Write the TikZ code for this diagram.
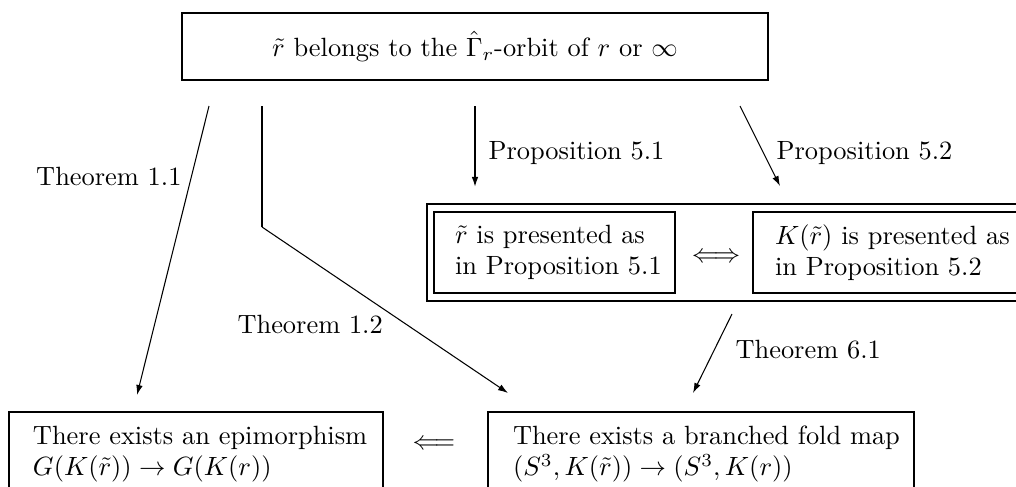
\documentclass[tikz,border=0pt]{standalone}
\usetikzlibrary{arrows.meta}
\newcommand\pxu{0.3788pt}
\begin{document}
\begin{tikzpicture}[x=\pxu, y=-\pxu,
  box/.style={draw, line width=0.8pt, inner sep=0pt, outer sep=0pt},
  lbox/.style={box, align=left, inner ysep=0pt},
  lab/.style={inner sep=0pt},
  arr/.style={-{Latex[length=3.8pt,width=2.5pt]}, line width=0.4pt},
  mid/.style={-{Latex[length=3.8pt,width=2.5pt]}, line width=0.6pt},
  heavy/.style={line width=1.1pt}]
\useasboundingbox (0,0) rectangle (1016,486);
\clip (0,0) rectangle (1016,486);
% nodes
\node[box, minimum width=221.98pt, minimum height=25.38pt] (top) at (475,46.5)
  {$\tilde r$ belongs to the $\hat\Gamma_r$-orbit of $r$ or $\infty$};
\node[box, minimum width=231.83pt, minimum height=36.74pt] (dbl) at (733,252.5) {};
\node[lbox, text width=75.38pt, inner xsep=7.95pt, minimum height=30.68pt] (p51) at (554.5,252.5)
  {\mbox{$\tilde r$ is presented as}\\ \mbox{in Proposition 5.1}};
\node[lbox, text width=89.02pt, inner xsep=8.33pt, minimum height=30.68pt] (p52) at (892.5,252.5)
  {\mbox{$K(\tilde r)$ is presented as}\\ \mbox{in Proposition 5.2}};
\node[lab] (iff) at (716,258) {$\Longleftrightarrow$};
\node[lbox, text width=123.49pt, inner xsep=9.09pt, minimum height=31.82pt] (epi) at (196,454)
  {\mbox{There exists an epimorphism}\\ \mbox{$G(K(\tilde r))\to G(K(r))$}};
\node[lbox, text width=142.43pt, inner xsep=9.47pt, minimum height=31.82pt] (fold) at (701,454)
  {\mbox{There exists a branched fold map}\\ \mbox{$(S^3,K(\tilde r))\to(S^3,K(r))$}};
\node[lab] (impl) at (434,445) {$\Longleftarrow$};
% labels
\node[lab, anchor=base east] (l11) at (182,185) {Theorem 1.1};
\node[lab, anchor=base west] (l12) at (237,333) {Theorem 1.2};
\node[lab, anchor=base west] (l51) at (488,159) {Proposition 5.1};
\node[lab, anchor=base west] (l52) at (776,159) {Proposition 5.2};
\node[lab, anchor=base west] (l61) at (735,358) {Theorem 6.1};
% connector ends
\coordinate (a11s) at (209,106);
\coordinate (a11e) at (137,395);
\coordinate (a12s) at (262,106);
\coordinate (a12k) at (262,227);
\coordinate (a12e) at (508,393);
\coordinate (a51s) at (475,106);
\coordinate (a51e) at (475,187);
\coordinate (a52s) at (740,106);
\coordinate (a52e) at (780,186);
\coordinate (a61s) at (732,314);
\coordinate (a61e) at (693,393);
% connectors
\draw[arr] (a11s) -- (a11e);
\draw[heavy] (a12s) -- (a12k);
\draw[arr] (a12k) -- (a12e);
\draw[mid] (a51s) -- (a51e);
\draw[arr] (a52s) -- (a52e);
\draw[arr] (a61s) -- (a61e);
\end{tikzpicture}
\end{document}
